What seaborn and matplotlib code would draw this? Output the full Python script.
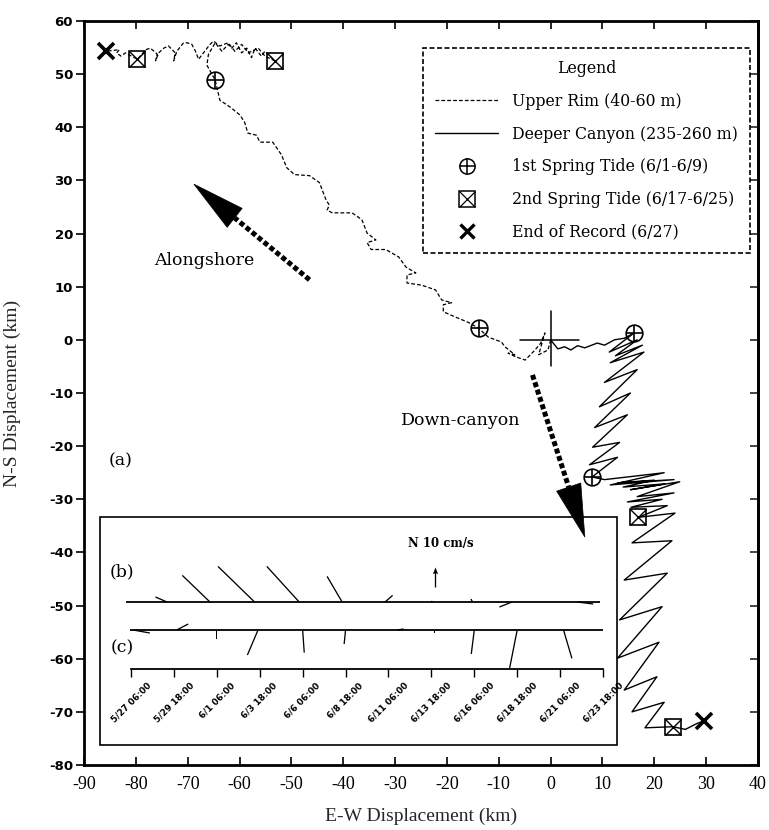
import numpy as np
import pandas as pd
import matplotlib
matplotlib.use("Agg")
import matplotlib.pyplot as plt
import seaborn as sns
from matplotlib.lines import Line2D
from matplotlib.patches import Rectangle, Polygon

# ---------------------------------------------------------------------------
# Progressive-vector displacement (km east, km north) from the mooring
# ---------------------------------------------------------------------------
rim_x = [0.0, -0.5, -2.3, -1.1, -1.9, -3.0, -4.9, -6.7, -8.2, -6.9, -8.8, -9.5,
         -12.0, -13.9, -15.9, -19.1, -20.7, -20.7, -19.1, -21.0, -22.2, -24.9,
         -27.7, -27.7, -26.0, -27.9, -29.3, -31.8, -34.6, -35.4, -33.7, -35.4,
         -36.4, -38.3, -42.1, -43.1, -42.7, -43.3, -44.6, -46.5, -49.4, -50.9,
         -51.9, -53.6, -56.1, -56.7, -58.4, -59.0, -59.9, -61.8, -63.8, -64.7,
         -66.3, -66.0, -65.3, -64.7, -63.4, -62.2, -61.5, -60.6, -59.6, -58.6,
         -57.7, -57.0, -55.8, -55.1, -53.2, -55.1, -56.4, -58.3, -59.6, -60.9,
         -62.2, -63.8, -65.0, -65.7, -67.9, -68.5, -69.2, -70.1, -70.8, -72.1,
         -72.7, -72.4, -73.7, -74.6, -75.6, -76.2, -75.9, -77.2, -78.1, -79.7,
         -82.0, -82.9, -83.7, -83.2, -85.8]
rim_y = [0.0, -1.9, -2.8, 1.3, -0.6, -1.9, -3.8, -3.2, -2.5, -2.8, -1.3, -0.4,
         0.5, 2.2, 3.3, 4.6, 5.3, 6.6, 7.0, 7.5, 9.4, 10.3,
         10.7, 12.2, 12.6, 13.7, 15.6, 17.0, 17.0, 18.3, 18.8, 20.1,
         22.6, 23.9, 23.9, 24.4, 25.4, 26.3, 29.6, 30.9, 31.1, 32.4,
         34.8, 37.2, 37.2, 38.5, 38.9, 40.9, 42.3, 43.8, 45.1, 48.9,
         51.7, 53.7, 54.9, 55.9, 54.3, 55.6, 54.9, 55.9, 54.0, 54.9,
         53.1, 54.9, 53.4, 54.3, 52.5, 53.4, 54.9, 54.0, 55.6, 54.3,
         55.9, 55.3, 56.2, 55.6, 52.8, 54.3, 55.6, 55.9, 55.9, 54.3,
         52.5, 54.0, 55.3, 54.9, 54.0, 52.5, 53.8, 54.9, 54.6, 52.8,
         54.0, 53.4, 54.0, 54.6, 54.3]

canyon_x = [0.0, 1.4, 2.7, 3.9, 5.2, 6.6, 9.0, 10.4, 12.3, 14.2, 16.1,
            11.3, 16.7, 12.5, 17.7, 11.5, 18.0, 10.4, 16.7, 9.4, 15.4,
            8.5, 14.8, 8.1, 13.3, 7.5, 12.9, 8.0,
            10.4, 21.9, 11.5, 23.8, 13.0, 20.0, 14.0, 22.0, 15.4, 24.9,
            16.7, 23.8, 14.8, 21.5, 15.5, 22.5, 16.9,
            24.0, 15.7, 23.4, 14.2, 22.5, 13.3, 21.5, 12.9, 20.9, 14.2,
            20.5, 15.7, 21.9, 18.2, 23.6, 26.0, 28.0, 29.5]
canyon_y = [0.0, -1.7, -1.3, -1.9, -1.1, -1.5, -0.6, -1.0, 0.0, 0.3, 1.3,
            -2.3, 0.0, -3.0, -1.0, -4.3, -2.3, -8.0, -5.6, -12.6, -10.0,
            -16.5, -14.1, -20.2, -19.3, -23.5, -22.1, -25.8,
            -26.3, -25.0, -27.3, -26.3, -26.9, -26.4, -27.7, -27.1, -28.2, -26.7,
            -29.5, -28.8, -30.5, -30.0, -31.5, -31.2, -33.4,
            -32.6, -38.2, -37.8, -45.2, -43.9, -52.7, -50.2, -59.9, -56.9, -65.9,
            -63.4, -70.0, -68.2, -73.0, -72.8, -73.3, -72.3, -71.7]

# Event markers (both depths)
spring1_x = [-13.9, -64.7, 16.1, 8.0]
spring1_y = [2.2, 48.9, 1.3, -25.8]
spring2_x = [-53.2, -79.7, 16.9, 23.6]
spring2_y = [52.5, 52.8, -33.4, -72.8]
end_x = [-85.8, 29.5]
end_y = [54.3, -71.7]

# Mooring origin cross-hair
origin_arm_x = [-6.0, 5.5]
origin_arm_y = [-5.0, 5.5]

# Low-passed velocity sticks (cm/s); time in days after 5/27 06:00
stick_ticks = ["5/27 06:00", "5/29 18:00", "6/1 06:00", "6/3 18:00",
               "6/6 06:00", "6/8 18:00", "6/11 06:00", "6/13 18:00",
               "6/16 06:00", "6/18 18:00", "6/21 06:00", "6/23 18:00"]
b_time = [2.1, 4.6, 7.2, 9.8, 12.3, 14.8, 17.5, 19.9, 22.2, 26.0]
b_u = [-5.8, -13.8, -18.3, -16.2, -7.5, 3.8, 0.5, -0.8, -6.3, 8.0]
b_v = [2.5, 13.3, 17.8, 17.8, 12.8, 3.3, 0.5, 1.5, -2.5, -1.0]
c_time = [0.13, 2.66, 5.0, 7.4, 10.0, 12.5, 15.5, 17.7, 20.0, 22.5, 25.2]
c_u = [8.3, 5.8, 0.0, -5.3, 0.8, -0.7, 3.3, 0.0, -1.5, -3.8, 4.2]
c_v = [-1.5, 3.0, -4.7, -12.5, -11.3, -7.0, 0.5, -1.3, -12.0, -19.2, -14.2]
ref_speed = 10.0

# ---------------------------------------------------------------------------
sns.set_theme(style="ticks")
plt.rcParams["font.family"] = ["DejaVu Serif", "DejaVu Sans"]
plt.rcParams["axes.edgecolor"] = "black"
plt.rcParams["text.color"] = "black"

W, H = 769, 830
fig = plt.figure(figsize=(W / 100, H / 100), dpi=100, facecolor="white")
ax = fig.add_axes([84 / W, 1 - 765 / H, (758 - 84) / W, (765 - 21) / H])

rim_style = (0, (3, 1.7))
rim_df = pd.DataFrame({"x": rim_x, "y": rim_y})
can_df = pd.DataFrame({"x": canyon_x, "y": canyon_y})
sns.lineplot(data=rim_df, x="x", y="y", sort=False, estimator=None, ax=ax,
             color="black", lw=0.9, linestyle=rim_style, zorder=2)
sns.lineplot(data=can_df, x="x", y="y", sort=False, estimator=None, ax=ax,
             color="black", lw=1.0, zorder=2)

# origin cross-hair
ax.plot(origin_arm_x, [0, 0], color="black", lw=1.1, zorder=2)
ax.plot([0, 0], origin_arm_y, color="black", lw=1.1, zorder=2)

mk = dict(ls="none", color="black", mfc="none", mec="black", zorder=3)
ax.plot(spring1_x, spring1_y, marker="o", ms=12, mew=1.2, **mk)
ax.plot(spring1_x, spring1_y, marker="+", ms=12, mew=1.2, **mk)
ax.plot(spring2_x, spring2_y, marker="s", ms=12, mew=1.2, **mk)
ax.plot(spring2_x, spring2_y, marker="x", ms=12, mew=1.0, **mk)
ax.plot(end_x, end_y, marker="x", ms=11, mew=2.6, **mk)

ax.set_xlim(-90, 40)
ax.set_ylim(-80, 60)
xt = list(range(-90, 41, 10))
yt = list(range(-80, 61, 10))
ax.set_xticks(xt)
ax.set_xticklabels([str(v) for v in xt], fontfamily="Liberation Serif", fontsize=13)
ax.set_yticks(yt)
ax.set_yticklabels([str(v) for v in yt], fontfamily="DejaVu Sans", fontsize=9.5,
                   fontweight="bold")
ax.tick_params(axis="x", direction="in", top=True, length=6, width=1.2, pad=8,
               colors="black")
ax.tick_params(axis="y", direction="out", length=6, width=1.2, pad=2,
               colors="black")
sec = ax.secondary_yaxis("right")
sec.set_yticks(yt)
sec.tick_params(direction="in", length=6, width=1.2, labelright=False)
for s in sec.spines.values():
    s.set_linewidth(2)
for s in ax.spines.values():
    s.set_linewidth(2)
    s.set_visible(True)

ax.set_xlabel("E-W Displacement (km)", fontfamily="Liberation Serif", fontsize=14)
ax.set_ylabel("N-S Displacement (km)", fontfamily="Liberation Serif", fontsize=14)
ax.xaxis.set_label_coords(0.5, -0.058)
ax.yaxis.set_label_coords(-0.093, 0.5)


def dotted_arrow(tail, tip, head_len, head_half):
    tail = np.asarray(tail, float)
    tip = np.asarray(tip, float)
    d = tip - tail
    u = d / np.hypot(*d)
    n = np.array([-u[1], u[0]])
    base = tip - u * head_len
    ax.plot([tail[0], base[0]], [tail[1], base[1]], color="black", lw=3.6,
            linestyle=(0, (1, 0.55)), dash_capstyle="butt", zorder=6)
    ax.add_patch(Polygon([tip, base + n * head_half, base - n * head_half],
                         closed=True, fc="black", ec="black", lw=0.5, zorder=6))


dotted_arrow((-46.5, 11.3), (-68.8, 29.3), 10.1, 2.3)
dotted_arrow((-3.5, -6.6), (6.6, -37.1), 9.9, 2.45)

txt = dict(fontfamily="DejaVu Serif", fontsize=12.5, ha="center", va="center")
ax.text(-66.8, 15.0, "Alongshore", **txt)
ax.text(-17.4, -15.1, "Down-canyon", **txt)
ax.text(-82.9, -22.8, "(a)", **txt)

# inset frame for the stick plots
ax.add_patch(Rectangle((16 / 674, 20 / 744), 517 / 674, 228 / 744,
                       transform=ax.transAxes, fc="white", ec="black",
                       lw=1.2, zorder=4))

# legend
h_rim = Line2D([], [], color="black", lw=0.9, linestyle=rim_style)
h_can = Line2D([], [], color="black", lw=1.0)
h_c = Line2D([], [], marker="o", ms=11, mew=1.1, **mk)
h_p = Line2D([], [], marker="+", ms=11, mew=1.1, **mk)
h_s = Line2D([], [], marker="s", ms=11, mew=1.1, **mk)
h_sx = Line2D([], [], marker="x", ms=11, mew=0.9, **mk)
h_e = Line2D([], [], marker="x", ms=10, mew=2.4, **mk)
leg = ax.legend([h_rim, h_can, (h_c, h_p), (h_s, h_sx), h_e],
                ["Upper Rim (40-60 m)", "Deeper Canyon (235-260 m)",
                 "1st Spring Tide (6/1-6/9)", "2nd Spring Tide (6/17-6/25)",
                 "End of Record (6/27)"],
                title="Legend", loc="upper left",
                bbox_to_anchor=(339 / 674, 717 / 744), borderaxespad=0,
                frameon=True, fancybox=False, framealpha=1, edgecolor="black",
                handlelength=4.0, handletextpad=0.9, labelspacing=1.0,
                borderpad=0.78,
                prop={"family": "DejaVu Serif", "size": 11.3},
                title_fontproperties={"family": "DejaVu Serif", "size": 11.3})
leg.get_frame().set_linestyle((0, (3, 1.5)))
leg.get_frame().set_linewidth(1.2)
leg.set_zorder(7)

# stick plot panel inside the inset frame
sax = fig.add_axes([131 / W, 1 - 669 / H, (603 - 131) / W, 109 / H], zorder=3)
sax.patch.set_visible(False)
for s in ["top", "right", "left"]:
    sax.spines[s].set_visible(False)
sax.spines["bottom"].set_linewidth(1.3)
sax.spines["bottom"].set_color("black")
sax.set_xlim(0, 27.5)
sax.set_ylim(0, 109)
sax.set_yticks([])
sax.set_xticks(np.arange(len(stick_ticks)) * 2.5)
sax.set_xticklabels(stick_ticks, rotation=45, fontsize=6.3, fontweight="bold",
                    fontfamily="DejaVu Sans")
sax.tick_params(axis="x", direction="out", length=5.5, width=1.0, pad=3,
                colors="black")

yb, yc = 67, 39
sax.hlines(yb, -0.29, 27.3, color="black", lw=1.3, clip_on=False)
sax.hlines(yc, -0.06, 27.5, color="black", lw=1.3, clip_on=False)
stick = dict(angles="uv", scale_units="dots", scale=0.5, units="dots", width=1.3,
             headwidth=0, headlength=0, headaxislength=0, color="black",
             pivot="tail")
q1 = sax.quiver(b_time, np.full(len(b_time), yb), b_u, b_v, **stick)
q2 = sax.quiver(c_time, np.full(len(c_time), yc), c_u, c_v, **stick)
q3 = sax.quiver([17.72], [82], [0], [ref_speed], angles="uv", scale_units="dots",
                scale=0.5, units="dots", width=1.3, headwidth=4, headlength=5,
                headaxislength=4.5, color="black", pivot="tail")
for q in (q1, q2, q3):
    q.set_clip_on(False)
sax.text(18.07, 125.5, "N 10 cm/s", fontsize=8.5, fontweight="bold",
         fontfamily="DejaVu Serif", ha="center", va="center")
sax.text(-0.52, 97, "(b)", fontsize=12.5, fontfamily="DejaVu Serif",
         ha="center", va="center", clip_on=False)
sax.text(-0.52, 21, "(c)", fontsize=12.5, fontfamily="DejaVu Serif",
         ha="center", va="center", clip_on=False)

fig.savefig("out.png", dpi=100, facecolor="white")
